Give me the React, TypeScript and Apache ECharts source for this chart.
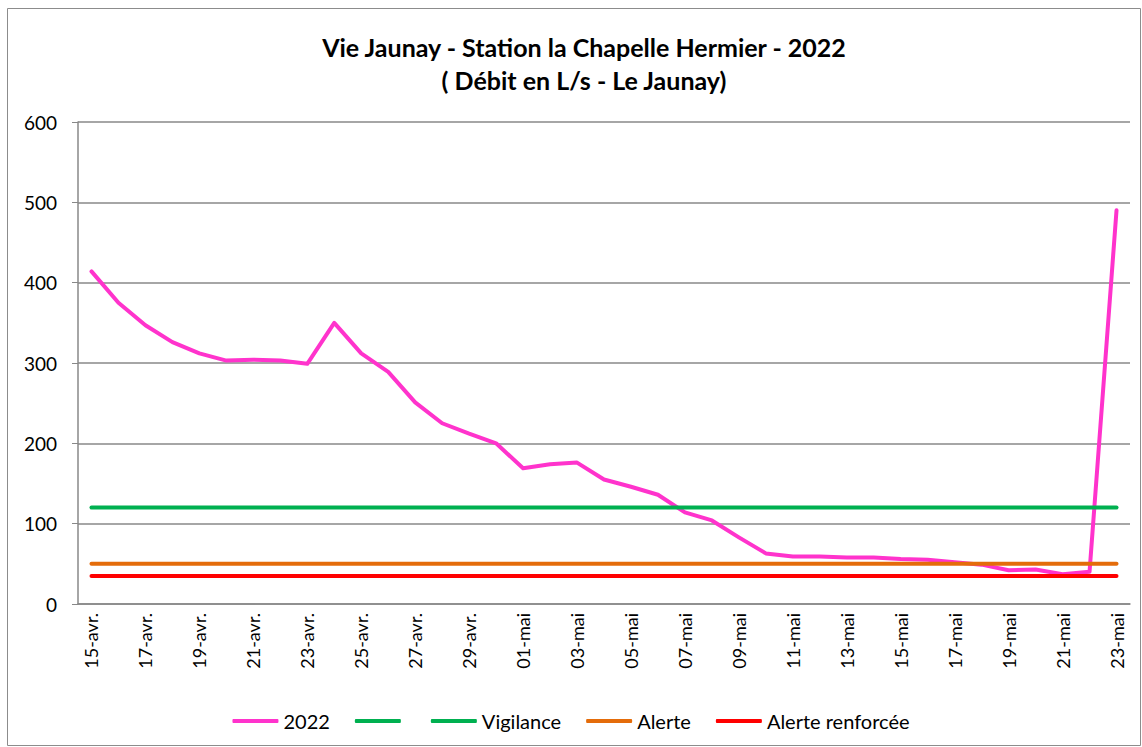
import React, { useEffect, useRef } from "react";
import * as echarts from "echarts";

const categories = [
  "15-avr.", "16-avr.", "17-avr.", "18-avr.", "19-avr.", "20-avr.", "21-avr.", "22-avr.",
  "23-avr.", "24-avr.", "25-avr.", "26-avr.", "27-avr.", "28-avr.", "29-avr.", "30-avr.",
  "01-mai", "02-mai", "03-mai", "04-mai", "05-mai", "06-mai", "07-mai", "08-mai",
  "09-mai", "10-mai", "11-mai", "12-mai", "13-mai", "14-mai", "15-mai", "16-mai",
  "17-mai", "18-mai", "19-mai", "20-mai", "21-mai", "22-mai", "23-mai",
];

const debit2022 = [
  414, 375, 347, 326, 312, 303, 304, 303, 299, 350, 312, 289, 251, 225, 212, 200,
  169, 174, 176, 155, 146, 136, 114, 104, 83, 63, 59, 59, 58, 58, 56, 55, 52, 49,
  42, 43, 37, 40, 490,
];

const vigilance = [
  120, 120, 120, 120, 120, 120, 120, 120, 120, 120, 120, 120, 120, 120, 120, 120,
  120, 120, 120, 120, 120, 120, 120, 120, 120, 120, 120, 120, 120, 120, 120, 120,
  120, 120, 120, 120, 120, 120, 120,
];

const alerte = [
  50, 50, 50, 50, 50, 50, 50, 50, 50, 50, 50, 50, 50, 50, 50, 50,
  50, 50, 50, 50, 50, 50, 50, 50, 50, 50, 50, 50, 50, 50, 50, 50,
  50, 50, 50, 50, 50, 50, 50,
];

const alerteRenforcee = [
  35, 35, 35, 35, 35, 35, 35, 35, 35, 35, 35, 35, 35, 35, 35, 35,
  35, 35, 35, 35, 35, 35, 35, 35, 35, 35, 35, 35, 35, 35, 35, 35,
  35, 35, 35, 35, 35, 35, 35,
];

const yTicks = [0, 100, 200, 300, 400, 500, 600];

const BLANK = "\u200b";
const FONT = "Lato, 'Open Sans', sans-serif";

export default function App() {
  const ref = useRef<HTMLDivElement>(null);

  useEffect(() => {
    document.body.style.margin = "0";
    if (!ref.current) return;
    const chart = echarts.init(ref.current, undefined, { renderer: "svg" });
    const lineStyle = (color: string) => ({ color, width: 4, cap: "round" as const, join: "round" as const });
    chart.setOption({
      animation: false,
      backgroundColor: "#ffffff",
      textStyle: { fontFamily: FONT },
      title: {
        text: "Vie Jaunay - Station la Chapelle Hermier - 2022\n( Débit en L/s - Le Jaunay)",
        left: 579,
        top: 25,
        textAlign: "center",
        textStyle: {
          fontFamily: FONT,
          fontSize: 25,
          fontWeight: "bold",
          color: "#000",
          lineHeight: 33,
        },
      },
      graphic: [
        {
          type: "rect",
          shape: { x: 7.5, y: 8.5, width: 1133, height: 737 },
          style: { fill: "none", stroke: "#8c8c8c", lineWidth: 1 },
          silent: true,
        },
      ],
      legend: {
        top: 706,
        left: "center",
        itemWidth: 46,
        itemHeight: 4,
        itemGap: 25,
        icon: "roundRect",
        textStyle: { fontFamily: FONT, fontSize: 20, color: "#000" },
        data: ["2022", BLANK, "Vigilance", "Alerte", "Alerte renforcée"],
      },
      grid: { left: 78, right: 12, top: 122, bottom: 143, containLabel: false },
      xAxis: {
        type: "category",
        data: categories,
        boundaryGap: true,
        axisLine: { lineStyle: { color: "#888888", width: 1.5 } },
        axisTick: { interval: 1, length: 7, lineStyle: { color: "#888888", width: 1 } },
        axisLabel: {
          interval: 1,
          rotate: 90,
          fontFamily: FONT,
          fontSize: 18,
          color: "#000",
          margin: 9,
        },
      },
      yAxis: {
        type: "value",
        min: 0,
        max: 600,
        interval: 100,
        axisLine: { show: true, lineStyle: { color: "#888888", width: 1.5 } },
        axisTick: { show: true, length: 6, lineStyle: { color: "#888888" } },
        axisLabel: {
          fontFamily: FONT,
          fontSize: 19,
          color: "#000",
          margin: 21,
          formatter: (v: number) => (yTicks.includes(v) ? String(v) : ""),
        },
        splitLine: { lineStyle: { color: "#888888", width: 1.5 } },
      },
      series: [
        {
          name: "2022",
          type: "line",
          data: debit2022,
          showSymbol: false,
          symbol: "none",
          color: "#FF33CC",
          lineStyle: lineStyle("#FF33CC"),
        },
        {
          name: BLANK,
          type: "line",
          data: [],
          showSymbol: false,
          symbol: "none",
          color: "#00B050",
          lineStyle: lineStyle("#00B050"),
        },
        {
          name: "Vigilance",
          type: "line",
          data: vigilance,
          showSymbol: false,
          symbol: "none",
          color: "#00B050",
          lineStyle: lineStyle("#00B050"),
        },
        {
          name: "Alerte",
          type: "line",
          data: alerte,
          showSymbol: false,
          symbol: "none",
          color: "#E46C0A",
          lineStyle: lineStyle("#E46C0A"),
        },
        {
          name: "Alerte renforcée",
          type: "line",
          data: alerteRenforcee,
          showSymbol: false,
          symbol: "none",
          color: "#FF0000",
          lineStyle: lineStyle("#FF0000"),
        },
      ],
    });
    return () => chart.dispose();
  }, []);

  return <div ref={ref} style={{ width: 1142, height: 747 }} />;
}
